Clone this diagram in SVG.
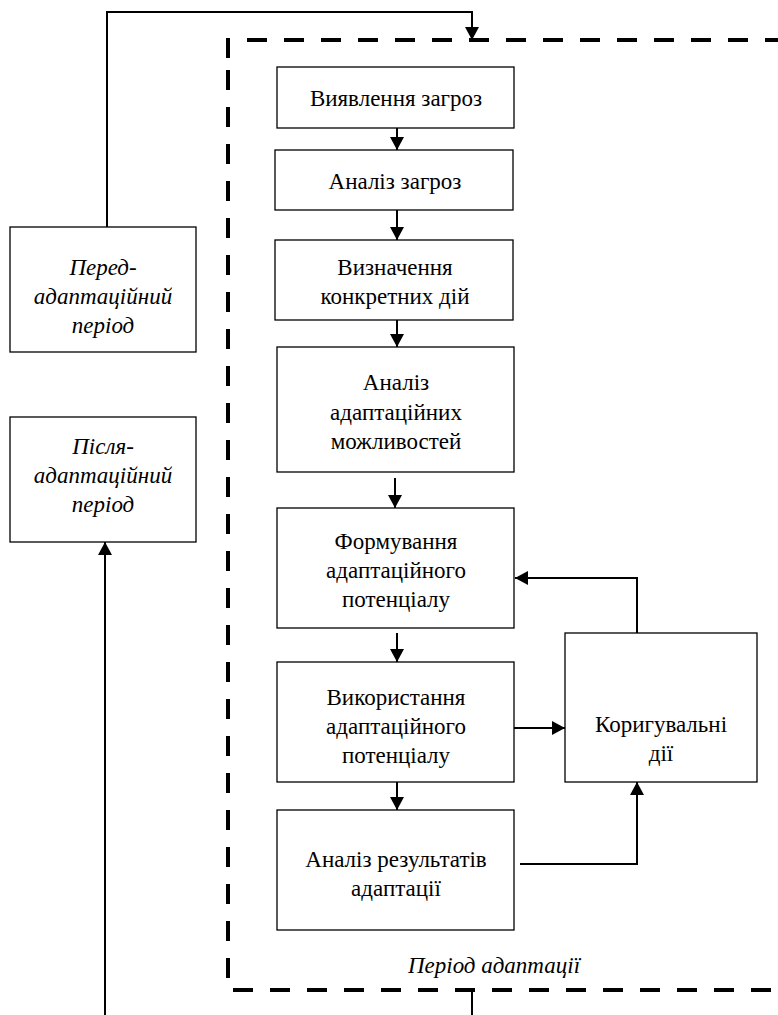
<svg xmlns="http://www.w3.org/2000/svg" width="778" height="1015" viewBox="0 0 778 1015">
  <style>
    .box { fill: #fff; stroke: #000; stroke-width: 1.3; }
    .lbl { font-family: 'Liberation Serif', 'Times New Roman', serif; font-size: 23px; fill: #000; text-anchor: middle; }
    .ital { font-style: italic; }
    .c { fill: none; stroke: #000; stroke-width: 2; }
    .frame { fill: none; stroke: #000; stroke-width: 4; stroke-dasharray: 20 17; }
  </style>
  <defs>
    <marker id="arr" markerUnits="userSpaceOnUse" markerWidth="14" markerHeight="14" refX="13" refY="7" orient="auto">
      <path d="M0,0 L13,7 L0,14 z" fill="#000"/>
    </marker>
  </defs>
  <rect width="778" height="1015" fill="#fff"/>

  <!-- adaptation period frame -->
  <g id="frame">
    <path class="frame" d="M228,58 V40 H790"/>
    <path class="frame" d="M228,70 V990 H790"/>
    <text class="lbl ital" x="494" y="973">Період адаптації</text>
  </g>

  <g id="connectors">
    <path class="c" d="M107,227 V12 H472 V40" marker-end="url(#arr)"/>
    <path class="c" d="M397,128 V150" marker-end="url(#arr)"/>
    <path class="c" d="M397,210 V240" marker-end="url(#arr)"/>
    <path class="c" d="M397,320 V347" marker-end="url(#arr)"/>
    <path class="c" d="M395,478 V508" marker-end="url(#arr)"/>
    <path class="c" d="M397,633 V662" marker-end="url(#arr)"/>
    <path class="c" d="M397,782 V810" marker-end="url(#arr)"/>
    <path class="c" d="M637,633 V578 H515" marker-end="url(#arr)"/>
    <path class="c" d="M514,728 H565" marker-end="url(#arr)"/>
    <path class="c" d="M520,864 H637 V782" marker-end="url(#arr)"/>
    <path class="c" d="M472,990 V1015"/>
    <path class="c" d="M105,1015 V542" marker-end="url(#arr)"/>
  </g>

  <g id="pre-period">
    <rect class="box" x="10" y="227" width="186" height="125"/>
    <text class="lbl ital" x="103" y="275">Перед-</text>
    <text class="lbl ital" x="103" y="304">адаптаційний</text>
    <text class="lbl ital" x="103" y="333">період</text>
  </g>
  <g id="post-period">
    <rect class="box" x="10" y="417" width="186" height="125"/>
    <text class="lbl ital" x="103" y="454">Після-</text>
    <text class="lbl ital" x="103" y="483">адаптаційний</text>
    <text class="lbl ital" x="103" y="512">період</text>
  </g>

  <g id="detect">
    <rect class="box" x="277" y="67" width="237" height="61"/>
    <text class="lbl" x="396" y="106">Виявлення загроз</text>
  </g>
  <g id="analyse-threats">
    <rect class="box" x="275" y="150" width="238" height="60"/>
    <text class="lbl" x="395" y="189">Аналіз загроз</text>
  </g>
  <g id="define-actions">
    <rect class="box" x="275" y="240" width="238" height="80"/>
    <text class="lbl" x="395" y="275">Визначення</text>
    <text class="lbl" x="395" y="304">конкретних дій</text>
  </g>
  <g id="analyse-capabilities">
    <rect class="box" x="277" y="347" width="237" height="125"/>
    <text class="lbl" x="396" y="390">Аналіз</text>
    <text class="lbl" x="396" y="420">адаптаційних</text>
    <text class="lbl" x="396" y="449">можливостей</text>
  </g>
  <g id="form-potential">
    <rect class="box" x="277" y="508" width="237" height="120"/>
    <text class="lbl" x="396" y="549">Формування</text>
    <text class="lbl" x="396" y="578">адаптаційного</text>
    <text class="lbl" x="396" y="607">потенціалу</text>
  </g>
  <g id="use-potential">
    <rect class="box" x="277" y="662" width="237" height="120"/>
    <text class="lbl" x="396" y="705">Використання</text>
    <text class="lbl" x="396" y="734">адаптаційного</text>
    <text class="lbl" x="396" y="763">потенціалу</text>
  </g>
  <g id="analyse-results">
    <rect class="box" x="277" y="810" width="237" height="120"/>
    <text class="lbl" x="396" y="867">Аналіз результатів</text>
    <text class="lbl" x="396" y="896">адаптації</text>
  </g>
  <g id="corrective">
    <rect class="box" x="565" y="633" width="192" height="149"/>
    <text class="lbl" x="661" y="732">Коригувальні</text>
    <text class="lbl" x="661" y="761">дії</text>
  </g>
</svg>
